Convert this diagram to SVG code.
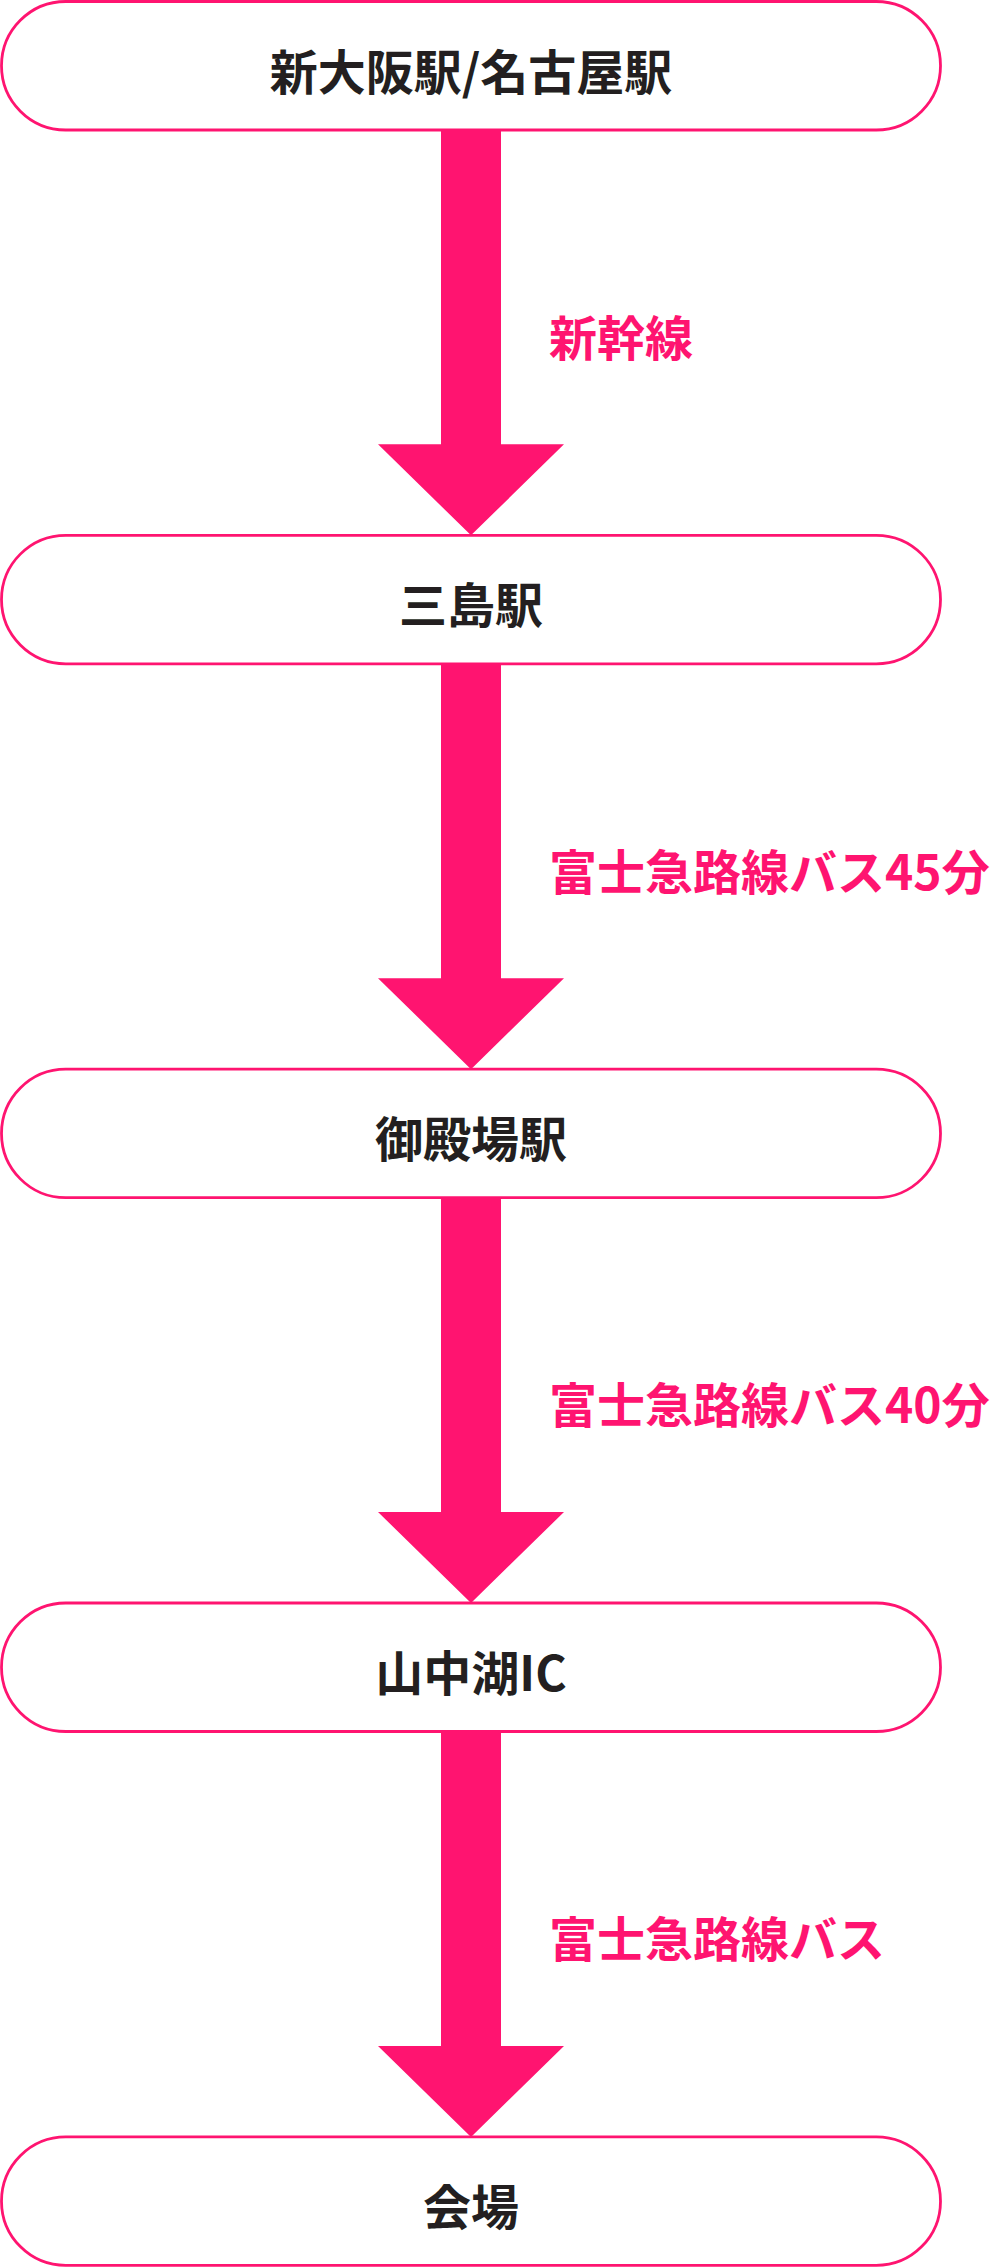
<svg xmlns="http://www.w3.org/2000/svg" width="990" height="2268" viewBox="0 0 990 2268">
<style>
.node{fill:#ffffff;stroke:#ff1470;stroke-width:2.8}
.ntext{font-family:"Noto Sans CJK JP","Noto Sans",sans-serif;font-weight:700;font-size:48px;fill:#231f20;text-anchor:middle}
.arrow{fill:#ff1470}
.label{font-family:"Noto Sans CJK JP","Noto Sans",sans-serif;font-weight:700;font-size:48px;fill:#ff1470}
</style>
<rect width="990" height="2268" fill="#ffffff"/>
<g id="connectors">
<polygon class="arrow" points="441,129 501,129 501,444.3 564,444.3 471,535.3 378,444.3 441,444.3"/>
<polygon class="arrow" points="441,663 501,663 501,978.2 564,978.2 471,1069.2 378,978.2 441,978.2"/>
<polygon class="arrow" points="441,1197 501,1197 501,1512 564,1512 471,1603 378,1512 441,1512"/>
<polygon class="arrow" points="441,1731 501,1731 501,2045.9 564,2045.9 471,2136.9 378,2045.9 441,2045.9"/>
<text class="label" x="549" y="356">新幹線</text>
<text class="label" x="549" y="889.5">富士急路線バス45分</text>
<text class="label" x="549" y="1423.4">富士急路線バス40分</text>
<text class="label" x="549" y="1957.2">富士急路線バス</text>
</g>
<g id="node1">
<rect class="node" x="1.5" y="1.5" width="939" height="128.5" rx="64.25"/>
<text class="ntext" x="471" y="89.5">新大阪駅/名古屋駅</text>
</g>
<g id="node2">
<rect class="node" x="1.5" y="535.3" width="939" height="128.5" rx="64.25"/>
<text class="ntext" x="471" y="623.3">三島駅</text>
</g>
<g id="node3">
<rect class="node" x="1.5" y="1069.2" width="939" height="128.5" rx="64.25"/>
<text class="ntext" x="471" y="1157.2">御殿場駅</text>
</g>
<g id="node4">
<rect class="node" x="1.5" y="1603" width="939" height="128.5" rx="64.25"/>
<text class="ntext" x="471" y="1691">山中湖IC</text>
</g>
<g id="node5">
<rect class="node" x="1.5" y="2136.9" width="939" height="128.5" rx="64.25"/>
<text class="ntext" x="471" y="2224.9">会場</text>
</g>
</svg>
